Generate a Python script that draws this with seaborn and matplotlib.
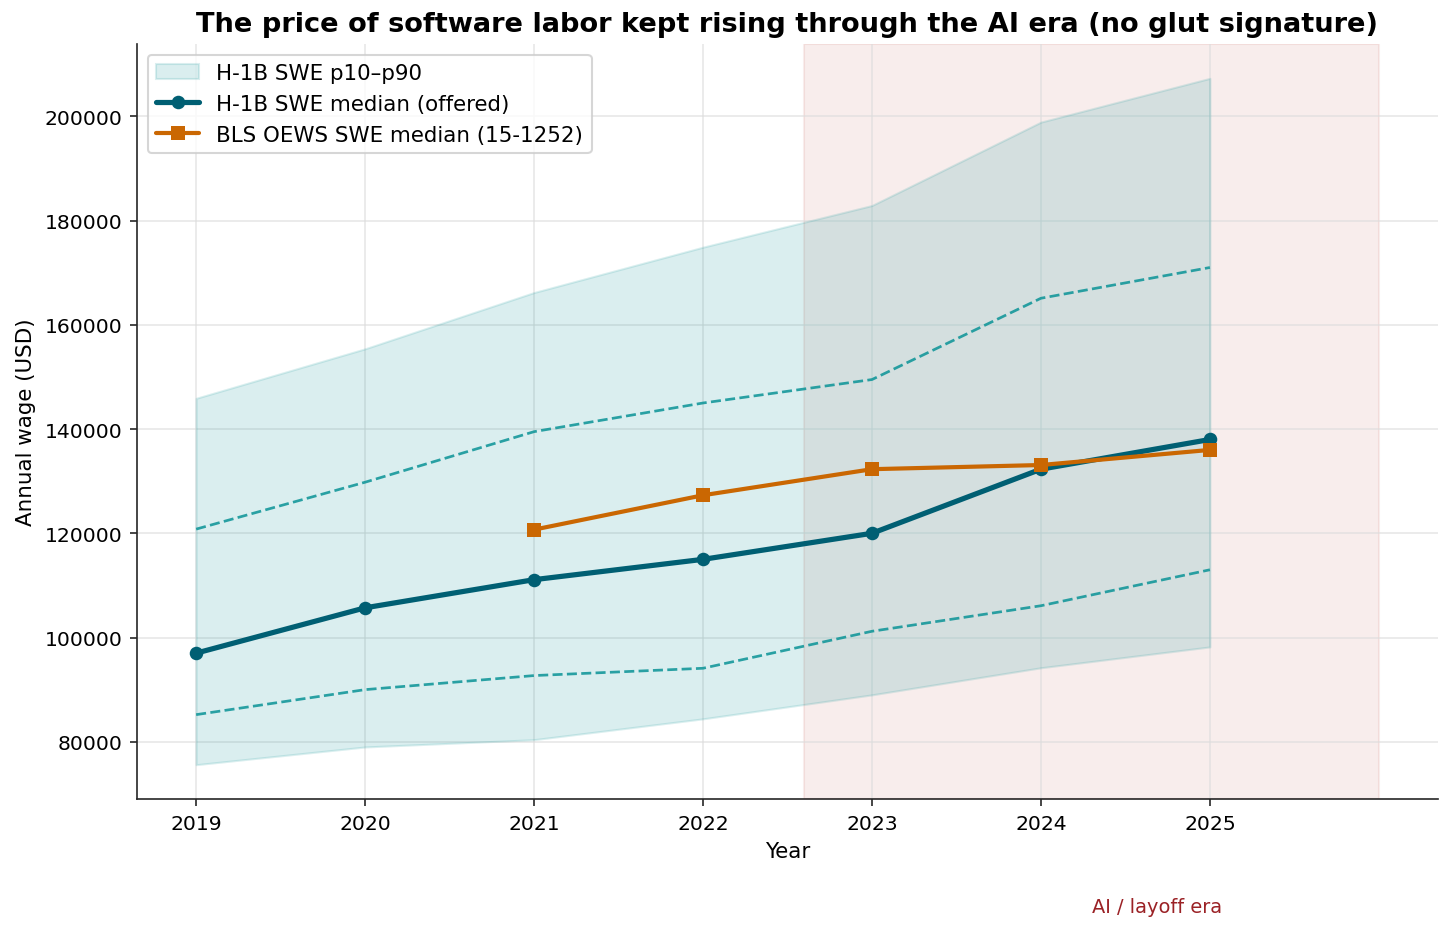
import numpy as np
import pandas as pd
import matplotlib
matplotlib.use("Agg")
import matplotlib.pyplot as plt
import seaborn as sns

years = [2019, 2020, 2021, 2022, 2023, 2024, 2025]
h1b_p10 = [75600, 79000, 80400, 84400, 89000, 94200, 98200]
h1b_p25 = [85200, 90000, 92700, 94100, 101200, 106100, 113000]
h1b_median = [97000, 105700, 111100, 115000, 120000, 132300, 138000]
h1b_p75 = [120800, 129800, 139500, 145000, 149500, 165100, 171000]
h1b_p90 = [145900, 155400, 166200, 174900, 182900, 198900, 207300]
bls_years = [2021, 2022, 2023, 2024, 2025]
bls_median = [120700, 127300, 132300, 133100, 136000]

era_start, era_end = 2022.6, 2026.0

sns.set_style("ticks")
plt.rcParams['font.family'] = ['DejaVu Sans']
plt.rcParams.update({
    "text.color": "black",
    "axes.labelcolor": "black",
    "xtick.labelcolor": "black",
    "ytick.labelcolor": "black",
})

S = 140 / 150  # size factor

fig = plt.figure(figsize=(9.68, 6.2133), dpi=150)
ax = fig.add_axes([137/1452, 1 - 800/932, (1438-137)/1452, (800-45)/932])

ax.grid(True, color="#dddddd", linewidth=0.8, alpha=0.7)
ax.set_axisbelow(True)

ax.fill_between(years, h1b_p10, h1b_p90, color="#0a9396", alpha=0.15,
                label="H-1B SWE p10\u2013p90", linewidth=1)
ax.plot(years, h1b_p25, color="#0a9396", linestyle="--", linewidth=1.3, alpha=0.85)
ax.plot(years, h1b_p75, color="#0a9396", linestyle="--", linewidth=1.3, alpha=0.85)

df_h = pd.DataFrame({"year": years, "wage": h1b_median})
df_b = pd.DataFrame({"year": bls_years, "wage": bls_median})
sns.lineplot(data=df_h, x="year", y="wage", ax=ax, color="#005f73", linewidth=2.5,
             marker="o", markersize=6.5, markeredgewidth=0, label="H-1B SWE median (offered)")
sns.lineplot(data=df_b, x="year", y="wage", ax=ax, color="#ca6702", linewidth=2,
             marker="s", markersize=6.5, markeredgewidth=0, label="BLS OEWS SWE median (15-1252)")

ax.axvspan(era_start, era_end, color="#ae2012", alpha=0.08, zorder=0)

ax.set_xticks(years)
ax.tick_params(labelsize=10.5 * S)
ax.set_xlabel("Year", fontsize=11 * S)
ax.set_ylabel("Annual wage (USD)", fontsize=11 * S)
ax.set_title("The price of software labor kept rising through the AI era (no glut signature)",
             fontsize=14 * S, fontweight="bold")
ax.ticklabel_format(axis="y", style="plain", useOffset=False)
sns.despine(ax=ax)

ax.text(2024.69, -0.143, "AI / layoff era", transform=ax.get_xaxis_transform(),
        ha="center", va="center", color="#9b2226", fontsize=10 * S)

ax.legend(loc="upper left", fontsize=11 * S, frameon=True)

fig.savefig("out.png", dpi=150)
